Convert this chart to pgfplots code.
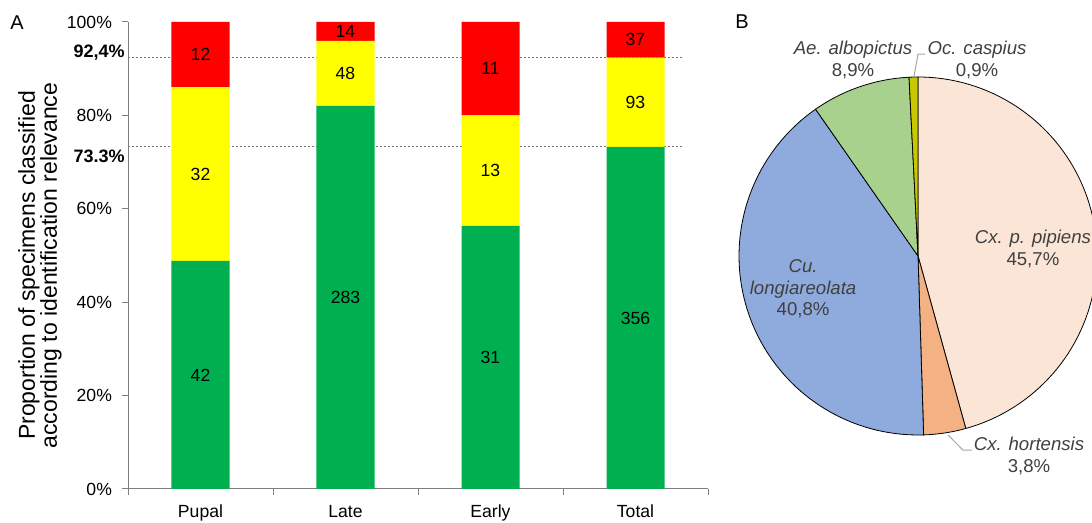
\documentclass[border=0pt]{standalone}
\usepackage{pgfplots}
\pgfplotsset{compat=1.18}
\usepackage{pgfplotstable}
\usepackage{fontspec}
\setmainfont{Liberation Sans}
\definecolor{cgreen}{HTML}{00B050}
\definecolor{cyellow}{HTML}{FFFF00}
\definecolor{cred}{HTML}{FF0000}
\definecolor{axisgray}{HTML}{7F7F7F}
\definecolor{pipc}{HTML}{FBE5D6}
\definecolor{hortc}{HTML}{F4B183}
\definecolor{longc}{HTML}{8FAADC}
\definecolor{albc}{HTML}{A9D18E}
\definecolor{caspc}{HTML}{C9C800}
\definecolor{labc}{HTML}{404040}
\definecolor{leadc}{HTML}{A6A6A6}

% percentages (p) and counts (n) of green / yellow / red
\pgfplotstableread{
x gp gn yp yn rp rn
0 48.84 42 37.21 32 13.95 12
1 82.03 283 13.91 48 4.06 14
2 56.36 31 23.64 13 20.00 11
3 73.25 356 19.14 93 7.61 37
}\bars

\pgfplotsset{
 leftframe/.style={at={(64pt,17pt)}, anchor=south west, width=290pt, height=233.5pt,
   scale only axis, xmin=-0.5, xmax=3.5, ymin=0, ymax=100, clip=false},
 seglabel/.style={draw=none, mark=none, nodes near coords, point meta=explicit symbolic,
   every node near coord/.style={anchor=center, inner sep=0pt, text=black,
     font=\fontsize{8.8}{10}\selectfont}},
}
\begin{document}
\begin{tikzpicture}
\path[use as bounding box] (0,0) rectangle (546pt,261.5pt);
% reference lines (behind bars)
\begin{axis}[leftframe, hide axis]
\addplot[black!55, line width=0.4pt, dash pattern=on 1pt off 1pt, mark=none] coordinates {(-0.5,92.4) (3.32,92.4)};
\addplot[black!55, line width=0.4pt, dash pattern=on 1pt off 1pt, mark=none] coordinates {(-0.5,73.3) (3.32,73.3)};
\node[anchor=east, inner sep=0pt, font=\bfseries\fontsize{9}{10}\selectfont, xshift=-1.5pt, yshift=2.5pt] at (axis cs:-0.5,92.4) {92,4\%};
\node[anchor=east, inner sep=0pt, font=\bfseries\fontsize{9}{10}\selectfont, xshift=-1.5pt, yshift=-5pt] at (axis cs:-0.5,73.3) {73.3\%};
\end{axis}
% bars
\begin{axis}[leftframe, ybar stacked, bar width=29pt,
  axis x line*=bottom, axis y line*=left,
  axis line style={axisgray, line width=0.5pt},
  every tick/.style={axisgray, line width=0.5pt},
  tick align=outside, major tick length=3pt, minor tick length=3pt,
  xtick={0,1,2,3}, xticklabels={Pupal,Late,Early,Total},
  major x tick style={draw=none},
  minor xtick={-0.5,0.5,1.5,2.5,3.5},
  ytick={0,20,40,60,80,100},
  yticklabels={0\%,20\%,40\%,60\%,80\%,100\%},
  ticklabel style={font=\fontsize{8.8}{10}\selectfont, text=black},
  xticklabel style={yshift=-1.5pt},
  yticklabel style={xshift=-1.5pt},
  ylabel={Proportion of specimens classified\\according to identification relevance},
  ylabel style={at={(axis description cs:-0.1517,0.4786)}, anchor=center, align=center,
    font=\fontsize{11.5}{11}\selectfont}]
\addplot[fill=cgreen, draw=none] table[x=x, y=gp] {\bars};
\addplot[fill=cyellow, draw=none] table[x=x, y=yp] {\bars};
\addplot[fill=cred, draw=none] table[x=x, y=rp] {\bars};
\end{axis}
% counts in the middle of each segment
\begin{axis}[leftframe, hide axis]
\addplot[seglabel] table[x=x, y expr=\thisrow{gp}/2, meta=gn] {\bars};
\addplot[seglabel] table[x=x, y expr=\thisrow{gp}+\thisrow{yp}/2, meta=yn] {\bars};
\addplot[seglabel] table[x=x, y expr=\thisrow{gp}+\thisrow{yp}+\thisrow{rp}/2, meta=rn] {\bars};
\end{axis}
\node[font=\fontsize{10}{12}\selectfont] at (8.5pt,250pt) {A};
\node[font=\fontsize{10}{12}\selectfont] at (371pt,250.5pt) {B};
% pie
\pgfmathsetmacro{\aA}{90-3.6*45.7}
\pgfmathsetmacro{\aB}{\aA-3.6*3.8}
\pgfmathsetmacro{\aC}{\aB-3.6*40.8}
\pgfmathsetmacro{\aD}{\aC-3.6*8.9}
\begin{axis}[at={(459pt,133.5pt)}, anchor=center, x=89.5pt, y=89.5pt,
  xmin=-1.2, xmax=1.2, ymin=-1.2, ymax=1.2, hide axis, clip=false, no markers]
\addplot[fill=pipc, draw=black, line width=0.4pt, domain=\aA:90, samples=80] ({cos(x)},{sin(x)}) -- (axis cs:0,0) -- cycle;
\addplot[fill=hortc, draw=black, line width=0.4pt, domain=\aB:\aA, samples=10] ({cos(x)},{sin(x)}) -- (axis cs:0,0) -- cycle;
\addplot[fill=longc, draw=black, line width=0.4pt, domain=\aC:\aB, samples=80] ({cos(x)},{sin(x)}) -- (axis cs:0,0) -- cycle;
\addplot[fill=albc, draw=black, line width=0.4pt, domain=\aD:\aC, samples=20] ({cos(x)},{sin(x)}) -- (axis cs:0,0) -- cycle;
\addplot[fill=caspc, draw=black, line width=0.4pt, domain=-270:\aD, samples=5] ({cos(x)},{sin(x)}) -- (axis cs:0,0) -- cycle;
\addplot[leadc, line width=0.5pt] coordinates {(0.168,-1.0) (0.251,-1.084) (0.302,-1.084)};
\addplot[leadc, line width=0.5pt] coordinates {(-0.022,1.006) (0,1.128) (0.039,1.128)};
\begin{scope}[every node/.style={align=center, text=labc, font=\fontsize{9.3}{11}\selectfont}]
\node at (axis cs:0.642,0.039) {\textit{Cx. p. pipiens}\\45,7\%};
\node[font=\fontsize{9.3}{10.75}\selectfont] at (axis cs:-0.642,-0.184) {\textit{Cu.}\\\textit{longiareolata}\\40,8\%};
\node at (axis cs:0.62,-1.117) {\textit{Cx. hortensis}\\3,8\%};
\node at (axis cs:-0.363,1.095) {\textit{Ae. albopictus}\\8,9\%};
\node at (axis cs:0.33,1.095) {\textit{Oc. caspius}\\0,9\%};
\end{scope}
\end{axis}
\end{tikzpicture}
\end{document}
